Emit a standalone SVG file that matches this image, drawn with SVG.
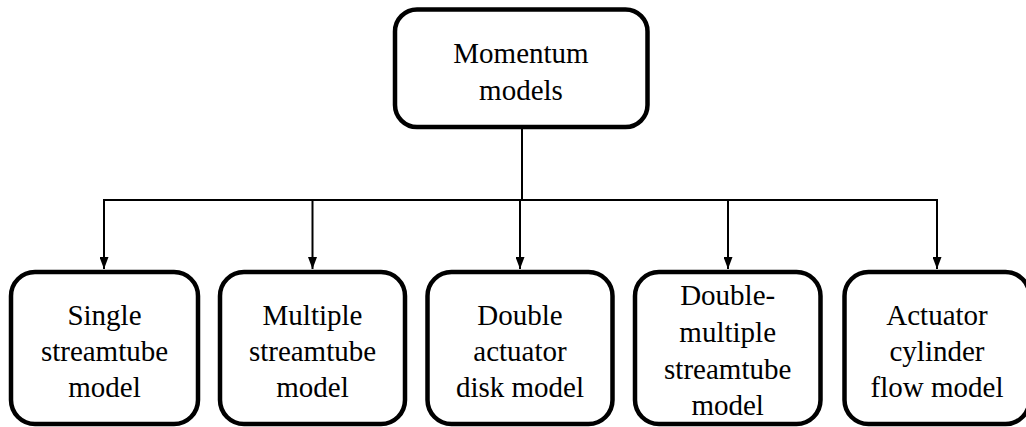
<svg xmlns="http://www.w3.org/2000/svg" width="1026" height="427" viewBox="0 0 1026 427">
  <style>
    .box { fill: #ffffff; stroke: #000000; stroke-width: 4.5; }
    .wire { fill: none; stroke: #000000; stroke-width: 2; }
    .label { font-family: "Liberation Serif", "Times New Roman", serif; font-size: 29px; fill: #000000; text-anchor: middle; }
  </style>
  <defs>
    <marker id="arrow" markerUnits="userSpaceOnUse" markerWidth="12" markerHeight="9" refX="12" refY="4.5" orient="auto">
      <path d="M0,0 L12,4.5 L0,9 z" fill="#000000"/>
    </marker>
  </defs>
  <rect width="1026" height="427" fill="#ffffff"/>

  <!-- connectors: trunk, bus bar and drops to each child -->
  <g id="connectors">
    <line class="wire" x1="522" y1="128" x2="522" y2="200"/>
    <line class="wire" x1="104" y1="200" x2="937" y2="200"/>
    <line class="wire" x1="104" y1="199" x2="104" y2="269" marker-end="url(#arrow)"/>
    <line class="wire" x1="312.5" y1="199" x2="312.5" y2="269" marker-end="url(#arrow)"/>
    <line class="wire" x1="520" y1="199" x2="520" y2="269" marker-end="url(#arrow)"/>
    <line class="wire" x1="728" y1="199" x2="728" y2="269" marker-end="url(#arrow)"/>
    <line class="wire" x1="937" y1="199" x2="937" y2="269" marker-end="url(#arrow)"/>
  </g>

  <g id="momentum-models">
    <rect class="box" x="395" y="9.5" width="252.5" height="117.5" rx="22" ry="22"/>
    <text class="label" x="521" y="63">Momentum</text>
    <text class="label" x="521" y="100">models</text>
  </g>

  <g id="single-streamtube">
    <rect class="box" x="11" y="272" width="187" height="152" rx="24" ry="24"/>
    <text class="label" x="104.5" y="325">Single</text>
    <text class="label" x="104.5" y="361">streamtube</text>
    <text class="label" x="104.5" y="397">model</text>
  </g>

  <g id="multiple-streamtube">
    <rect class="box" x="220" y="272" width="185" height="152" rx="24" ry="24"/>
    <text class="label" x="312.5" y="325">Multiple</text>
    <text class="label" x="312.5" y="361">streamtube</text>
    <text class="label" x="312.5" y="397">model</text>
  </g>

  <g id="double-actuator-disk">
    <rect class="box" x="427.5" y="272" width="185" height="152" rx="24" ry="24"/>
    <text class="label" x="520" y="325">Double</text>
    <text class="label" x="520" y="361">actuator</text>
    <text class="label" x="520" y="397">disk model</text>
  </g>

  <g id="double-multiple-streamtube">
    <rect class="box" x="635" y="272" width="185.5" height="152" rx="24" ry="24"/>
    <text class="label" x="727.7" y="305">Double-</text>
    <text class="label" x="727.7" y="342">multiple</text>
    <text class="label" x="727.7" y="379">streamtube</text>
    <text class="label" x="727.7" y="415">model</text>
  </g>

  <g id="actuator-cylinder-flow">
    <rect class="box" x="844.5" y="272" width="185" height="152" rx="24" ry="24"/>
    <text class="label" x="937" y="325">Actuator</text>
    <text class="label" x="937" y="361">cylinder</text>
    <text class="label" x="937" y="397">flow model</text>
  </g>
</svg>
